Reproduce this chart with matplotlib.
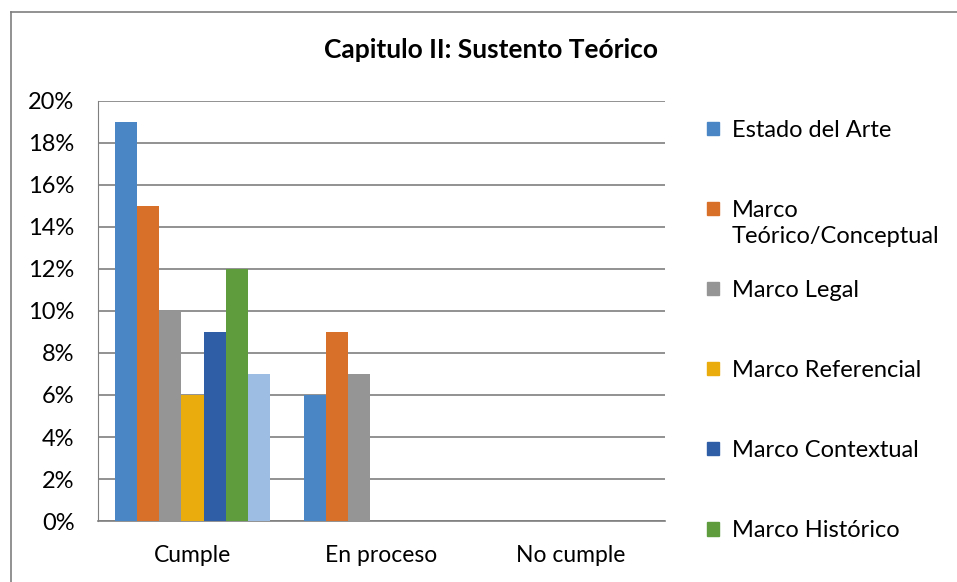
import numpy as np
import matplotlib.pyplot as plt
import matplotlib.transforms as mtransforms
from matplotlib.lines import Line2D
from matplotlib.patches import Patch

plt.rcParams['font.family'] = ['Lato', 'DejaVu Sans']

categorias = ['Cumple', 'En proceso', 'No cumple']
series = ['Estado del Arte', 'Marco Teórico/Conceptual', 'Marco Legal',
          'Marco Referencial', 'Marco Contextual', 'Marco Histórico', 'Otro']
valores = [
    [0.19, 0.06, 0.0],
    [0.15, 0.09, 0.0],
    [0.10, 0.07, 0.0],
    [0.06, 0.0, 0.0],
    [0.09, 0.0, 0.0],
    [0.12, 0.0, 0.0],
    [0.07, 0.0, 0.0],
]
colores = ['#4A86C5', '#D9702A', '#959595', '#E9AC0C', '#2F5DA6', '#5E9C3E', '#9DBDE3']

fig = plt.figure(figsize=(9.57, 5.82), dpi=100)
ax = fig.add_axes([0.1024, 0.1048, 0.5925, 0.7217])

x = np.arange(len(categorias))
n = len(series)
w = 0.825 / n
for i in range(n):
    ax.bar(x - 0.4125 + w * (i + 0.5), valores[i], width=w, color=colores[i], zorder=3)

ax.set_xlim(-0.5, 2.5)
ax.set_ylim(0, 0.20)
yt = np.arange(0, 0.201, 0.02)
ax.set_yticks(yt)
ax.set_yticklabels([f'{int(round(v * 100))}%' for v in yt], fontsize=17)
ax.set_xticks(x)
ax.set_xticklabels(categorias, fontsize=16.5)
ax.tick_params(axis='y', length=0, pad=17)
ax.tick_params(axis='x', length=0, pad=17)
ax.grid(axis='y', color='#7F7F7F', linewidth=1.2, zorder=0)
for s in ['top', 'right']:
    ax.spines[s].set_visible(False)
ax.spines['left'].set_color('#7F7F7F')
ax.spines['bottom'].set_color('#7F7F7F')
ax.spines['bottom'].set_linewidth(1.2)

fig.text(0.513, 0.914, 'Capitulo II: Sustento Teórico', ha='center', va='center',
         fontsize=19, fontweight='bold')

# leyenda: la segunda entrada se parte en dos lineas como en Excel
etiquetas = [s.split(' ', 1)[0] if i == 1 else s for i, s in enumerate(series[:6])]
handles = [Patch(color=colores[i]) for i in range(6)]
leg = fig.legend(handles, etiquetas, loc='upper left', bbox_to_anchor=(0.717, 0.83),
                 frameon=False, fontsize=17, labelspacing=2.5, handlelength=0.48,
                 handleheight=0.48, handletextpad=0.55)
fig.canvas.draw()
t2 = leg.get_texts()[1]
fig.text(0, 0, series[1].split(' ', 1)[1], fontsize=17, ha='left', va='bottom',
         transform=t2.get_transform() + mtransforms.Affine2D().translate(0, -30))

# marco del grafico
fig.add_artist(Line2D([0.0115, 1.0], [0.979, 0.979], color='#7F7F7F', linewidth=1.2))
fig.add_artist(Line2D([0.0115, 0.0115], [0.0, 0.979], color='#7F7F7F', linewidth=1.2))

fig.savefig('out.png', dpi=100)
